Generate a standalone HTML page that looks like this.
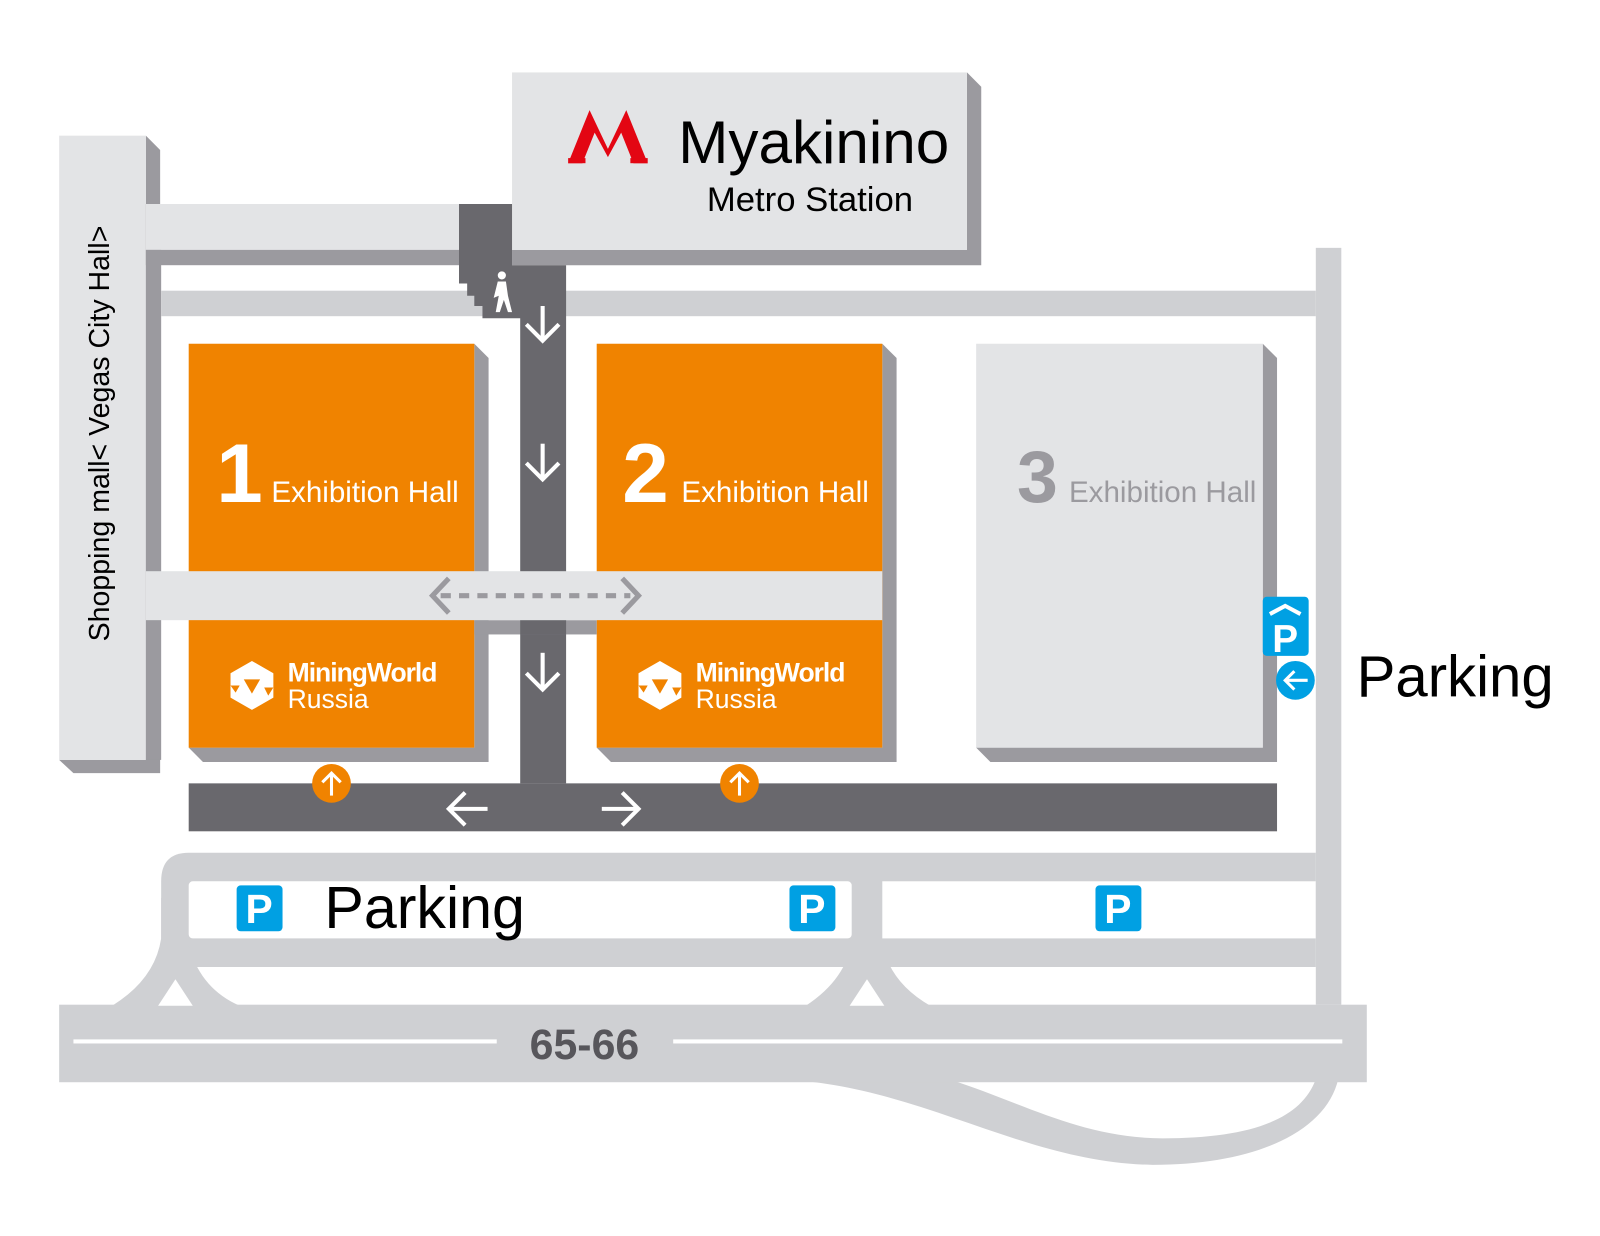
<!DOCTYPE html>
<html><head><meta charset="utf-8"><style>html,body{margin:0;padding:0;background:#fff}svg{display:block}text{font-family:"Liberation Sans",sans-serif}</style></head><body>
<svg width="1600" height="1236" viewBox="0 0 1600 1236" xmlns="http://www.w3.org/2000/svg">
<rect width="1600" height="1236" fill="#fff"/>
<g transform="scale(1.02)">
<path d="M760 1058 C900 1062 1000 1140 1130 1142 C1230 1142 1300 1110 1312 1058 L1290 1058 C1275 1100 1220 1116 1140 1116 C1060 1116 1000 1080 930 1058 Z" fill="#cfd0d3"/>
<rect x="58" y="985" width="1282" height="76" fill="#cfd0d3"/>
<rect x="72" y="1019" width="415" height="4" fill="#fff"/>
<rect x="660" y="1019" width="656" height="4" fill="#fff"/>
<text x="573" y="1038" font-size="42" font-weight="bold" fill="#57565b" text-anchor="middle">65-66</text>
<path d="M185 836 L1290 836 L1290 948 L185 948 Q158 948 158 920 L158 864 Q158 836 185 836 Z" fill="#cfd0d3"/>
<path d="M158 880 L158 920 Q152 960 110 986 L235 986 Q198 970 186 930 Z" fill="#cfd0d3"/>
<polygon points="155,986 172,960 189,986" fill="#fff"/>
<path d="M836 920 Q830 960 790 986 L912 986 Q870 962 864 920 Z" fill="#cfd0d3"/>
<polygon points="833,986 850,960 867,986" fill="#fff"/>
<rect x="185" y="864" width="650" height="56" rx="4" fill="#fff"/>
<rect x="865" y="864" width="425" height="56" fill="#fff"/>
<rect x="1290" y="243" width="25" height="742" fill="#cfd0d3"/>
<g font-weight="bold" font-size="40" fill="#fff" text-anchor="middle">
<rect x="232" y="868" width="45" height="45" rx="4" fill="#00a0e3"/><text x="254" y="905">P</text>
<rect x="774" y="868" width="45" height="45" rx="4" fill="#00a0e3"/><text x="796" y="905">P</text>
<rect x="1074" y="868" width="45" height="45" rx="4" fill="#00a0e3"/><text x="1096" y="905">P</text>
</g>
<text x="318" y="910" font-size="58" fill="#000">Parking</text>
<polygon points="143,133 157,147 157,758 72,758 58,745 143,745" fill="#9b9a9f"/>
<rect x="58" y="133" width="85" height="612" fill="#e3e4e6"/>
<text transform="translate(107,425) rotate(-90)" font-size="28" fill="#000" text-anchor="middle">Shopping mall&lt; Vegas City Hall&gt;</text>
<rect x="143" y="200" width="310" height="60" fill="#9b9a9f"/>
<rect x="143" y="200" width="310" height="45" fill="#e3e4e6"/>
<rect x="143" y="245" width="15" height="500" fill="#9b9a9f"/>
<rect x="158" y="285" width="1132" height="25" fill="#cfd0d3"/>
<polygon points="948,71 962,85 962,260 502,260 502,245 948,245" fill="#9b9a9f"/>
<rect x="502" y="71" width="446" height="174" fill="#e3e4e6"/>
<polygon points="557,160 578,108 596,146 614,108 635,160 621,160 609,130 596,154 583,130 571,160" fill="#e30613"/>
<rect x="557" y="155" width="17" height="5" fill="#e30613"/><rect x="618" y="155" width="17" height="5" fill="#e30613"/>
<text x="665" y="160" font-size="59" fill="#000">Myakinino</text>
<text x="693" y="207" font-size="34" fill="#000">Metro Station</text>
<path d="M450 200 L502 200 L502 260 L555 260 L555 768 L510 768 L510 312 L473 312 L473 300 L465 300 L465 290 L458 290 L458 278 L450 278 Z" fill="#69686d"/>
<g fill="#fff"><circle cx="492" cy="270" r="4"/><path d="M488 276 L496 276 L498 290 L502 306 L498 306 L494 294 L490 306 L486 306 L489 290 L484 292 Z"/></g>
<polygon points="465,337 479,351 479,747 199,747 185,733 465,733" fill="#9b9a9f"/>
<rect x="185" y="337" width="280" height="396" fill="#f08300"/>
<text x="212" y="492" font-size="82" font-weight="bold" fill="#fff">1</text>
<text x="266" y="492" font-size="29" fill="#fff">Exhibition Hall</text>
<polygon points="865,337 879,351 879,747 599,747 585,733 865,733" fill="#9b9a9f"/>
<rect x="585" y="337" width="280" height="396" fill="#f08300"/>
<text x="610" y="492" font-size="82" font-weight="bold" fill="#fff">2</text>
<text x="668" y="492" font-size="29" fill="#fff">Exhibition Hall</text>
<polygon points="1238,337 1252,351 1252,747 971,747 957,733 1238,733" fill="#9b9a9f"/>
<rect x="957" y="337" width="281" height="396" fill="#e3e4e6"/>
<text x="997" y="492" font-size="72" font-weight="bold" fill="#9b9a9f">3</text>
<text x="1048" y="492" font-size="29" fill="#9b9a9f">Exhibition Hall</text>
<rect x="465" y="608" width="120" height="14" fill="#9b9a9f"/>
<rect x="510" y="608" width="45" height="14" fill="#69686d"/>
<rect x="143" y="560" width="722" height="48" fill="#e3e4e6"/>
<g stroke="#9b9a9f" stroke-width="5" fill="none">
<line x1="432" y1="584" x2="618" y2="584" stroke-dasharray="10 8"/>
<polyline points="440,567 424,584 440,601"/><polyline points="610,567 626,584 610,601"/>
</g>
<g fill="#fff">
<g transform="translate(247,672)"><polygon points="0,-24 21,-12 21,12 0,24 -21,12 -21,-12"/><polygon points="-8,-6 8,-6 0,8" fill="#f08300"/><polygon points="-21,0 -12,0 -16,7" fill="#f08300"/><polygon points="12,2 21,2 16,10" fill="#f08300"/></g>
<text x="282" y="668" font-size="26" font-weight="bold" letter-spacing="-1">MiningWorld</text>
<text x="282" y="694" font-size="26">Russia</text>
<g transform="translate(647,672)"><polygon points="0,-24 21,-12 21,12 0,24 -21,12 -21,-12"/><polygon points="-8,-6 8,-6 0,8" fill="#f08300"/><polygon points="-21,0 -12,0 -16,7" fill="#f08300"/><polygon points="12,2 21,2 16,10" fill="#f08300"/></g>
<text x="682" y="668" font-size="26" font-weight="bold" letter-spacing="-1">MiningWorld</text>
<text x="682" y="694" font-size="26">Russia</text>
</g>
<rect x="185" y="768" width="1067" height="47" fill="#69686d"/>
<g stroke="#fff" stroke-width="4" fill="none">
<line x1="532" y1="300" x2="532" y2="334"/><polyline points="516,318 532,334 548,318"/>
<line x1="532" y1="435" x2="532" y2="470"/><polyline points="516,454 532,470 548,454"/>
<line x1="532" y1="640" x2="532" y2="676"/><polyline points="516,660 532,676 548,660"/>
<line x1="440" y1="793" x2="478" y2="793"/><polyline points="456,777 440,793 456,809"/>
<line x1="590" y1="793" x2="626" y2="793"/><polyline points="610,777 626,793 610,809"/>
</g>
<circle cx="325" cy="768" r="19" fill="#f08300"/><circle cx="725" cy="768" r="19" fill="#f08300"/>
<g stroke="#fff" stroke-width="3" fill="none">
<line x1="325" y1="758" x2="325" y2="780"/><polyline points="316,767 325,758 334,767"/>
<line x1="725" y1="758" x2="725" y2="780"/><polyline points="716,767 725,758 734,767"/>
</g>
<rect x="1238" y="585" width="45" height="58" rx="4" fill="#00a0e3"/>
<polyline points="1245,602 1260,594 1275,602" stroke="#fff" stroke-width="4" fill="none"/>
<text x="1260" y="639" font-size="38" font-weight="bold" fill="#fff" text-anchor="middle">P</text>
<circle cx="1270" cy="667" r="19" fill="#00a0e3"/>
<g stroke="#fff" stroke-width="3" fill="none"><line x1="1260" y1="667" x2="1282" y2="667"/><polyline points="1269,658 1260,667 1269,676"/></g>
<text x="1330" y="683" font-size="57" fill="#000">Parking</text>
</g>
</svg>
</body></html>
